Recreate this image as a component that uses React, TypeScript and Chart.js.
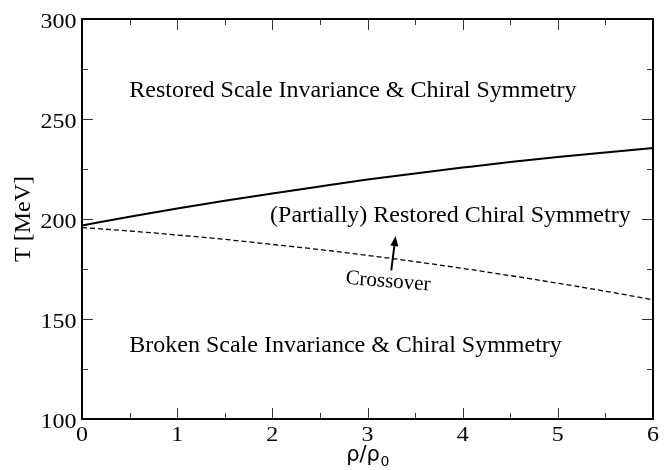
import React, { useEffect, useRef } from "react";
import { Chart, registerables } from "chart.js";

Chart.register(...registerables);

// density ratio rho/rho0
const rho = [0, 0.5, 1, 1.5, 2, 2.5, 3, 3.5, 4, 4.5, 5, 5.5, 6];
// upper (solid) transition line, T in MeV
const tSolid = [196.8, 201.1, 205.2, 209.1, 212.8, 216.3, 219.7, 222.8, 225.7, 228.5, 231.0, 233.3, 235.5];
// crossover (dashed) line, T in MeV
const tDashed = [195.7, 194.0, 192.0, 189.8, 187.3, 184.7, 181.8, 178.7, 175.3, 171.7, 167.9, 163.9, 159.6];

const xRange = [0, 6];
const yRange = [100, 300];
const xStep = 1;
const yStep = 50;

const SERIF = '"Liberation Serif", "Times New Roman", serif';

const decorPlugin = {
  id: "decor",
  afterDraw(chart: any) {
    const { ctx, chartArea: a, scales } = chart;
    const x = scales.x;
    const y = scales.y;
    ctx.save();

    // inward ticks
    ctx.strokeStyle = "#333";
    ctx.lineWidth = 1;
    const xv = x.ticks.map((t: any) => t.value);
    const yv = y.ticks.map((t: any) => t.value);
    const line = (x1: number, y1: number, x2: number, y2: number) => {
      ctx.beginPath();
      ctx.moveTo(x1, y1);
      ctx.lineTo(x2, y2);
      ctx.stroke();
    };
    const drawX = (v: number, len: number) => {
      const px = Math.round(x.getPixelForValue(v)) + 0.5;
      line(px, a.bottom, px, a.bottom - len);
      line(px, a.top, px, a.top + len);
    };
    const drawY = (v: number, len: number) => {
      const py = Math.round(y.getPixelForValue(v)) + 0.5;
      line(a.left, py, a.left + len, py);
      line(a.right, py, a.right - len, py);
    };
    xv.forEach((v: number, i: number) => {
      drawX(v, 11);
      if (i < xv.length - 1) drawX((v + xv[i + 1]) / 2, 6);
    });
    yv.forEach((v: number, i: number) => {
      drawY(v, 11);
      if (i < yv.length - 1) drawY((v + yv[i + 1]) / 2, 6);
    });

    // frame
    ctx.strokeStyle = "#000";
    ctx.lineWidth = 2;
    ctx.strokeRect(a.left, a.top, a.right - a.left, a.bottom - a.top);

    // tick labels (horizontally widened serif digits)
    ctx.fillStyle = "#000";
    ctx.font = `20px ${SERIF}`;
    ctx.textBaseline = "alphabetic";
    const sx = 1.2;
    xv.forEach((v: number) => {
      const px = x.getPixelForValue(v);
      const s = String(v);
      ctx.save();
      ctx.translate(px, a.bottom + 21.5);
      ctx.scale(sx, 1);
      ctx.textAlign = "center";
      ctx.fillText(s, 0, 0);
      ctx.restore();
    });
    yv.forEach((v: number) => {
      const py = y.getPixelForValue(v);
      const s = String(v);
      ctx.save();
      ctx.translate(a.left - 5.5, py + 8.5);
      ctx.scale(sx, 1);
      ctx.textAlign = "right";
      ctx.fillText(s, 0, 0);
      ctx.restore();
    });

    // y title
    ctx.save();
    ctx.font = `24px ${SERIF}`;
    ctx.translate(30, (a.top + a.bottom) / 2);
    ctx.rotate(-Math.PI / 2);
    ctx.textAlign = "center";
    ctx.fillText("T [MeV]", 0, 0);
    ctx.restore();

    // x title rho/rho_0
    ctx.save();
    const mainFont = '21px "DejaVu Sans", sans-serif';
    const subFont = '14px "DejaVu Sans", sans-serif';
    ctx.font = mainFont;
    const w1 = ctx.measureText("ρ/ρ").width;
    ctx.font = subFont;
    const w2 = ctx.measureText("0").width;
    const cx = (a.left + a.right) / 2;
    const start = cx - (w1 + w2) / 2;
    ctx.textAlign = "left";
    ctx.font = mainFont;
    ctx.fillText("ρ/ρ", start, a.bottom + 42);
    ctx.font = subFont;
    ctx.fillText("0", start + w1 + 0.5, a.bottom + 47);
    ctx.restore();

    // region annotations
    ctx.font = `24px ${SERIF}`;
    ctx.textAlign = "left";
    ctx.fillText("Restored Scale Invariance & Chiral Symmetry", x.getPixelForValue(0.497), y.getPixelForValue(261.1));
    ctx.fillText("(Partially) Restored Chiral Symmetry", x.getPixelForValue(1.976), y.getPixelForValue(198.5));
    ctx.fillText("Broken Scale Invariance & Chiral Symmetry", x.getPixelForValue(0.497), y.getPixelForValue(133.5));

    // Crossover label (slightly tilted)
    ctx.save();
    ctx.font = `21px ${SERIF}`;
    ctx.translate(x.getPixelForValue(2.765), y.getPixelForValue(167.6));
    ctx.rotate((4.5 * Math.PI) / 180);
    ctx.fillText("Crossover", 0, 0);
    ctx.restore();

    // arrow
    const ax1 = x.getPixelForValue(3.25);
    const ay1 = y.getPixelForValue(174.3);
    const ax2 = x.getPixelForValue(3.295);
    const ay2 = y.getPixelForValue(191.5);
    const ang = Math.atan2(ay2 - ay1, ax2 - ax1);
    const hl = 10;
    const hw = 4;
    ctx.strokeStyle = "#000";
    ctx.lineWidth = 2;
    ctx.beginPath();
    ctx.moveTo(ax1, ay1);
    ctx.lineTo(ax2 - Math.cos(ang) * hl * 0.8, ay2 - Math.sin(ang) * hl * 0.8);
    ctx.stroke();
    ctx.beginPath();
    ctx.moveTo(ax2, ay2);
    ctx.lineTo(
      ax2 - Math.cos(ang) * hl + Math.sin(ang) * hw,
      ay2 - Math.sin(ang) * hl - Math.cos(ang) * hw
    );
    ctx.lineTo(
      ax2 - Math.cos(ang) * hl - Math.sin(ang) * hw,
      ay2 - Math.sin(ang) * hl + Math.cos(ang) * hw
    );
    ctx.closePath();
    ctx.fillStyle = "#000";
    ctx.fill();

    ctx.restore();
  },
};

export default function App() {
  const ref = useRef<HTMLCanvasElement | null>(null);

  useEffect(() => {
    document.body.style.margin = "0";
    const canvas = ref.current;
    if (!canvas) return;
    const chart = new Chart(canvas, {
      type: "scatter",
      data: {
        datasets: [
          {
            label: "upper",
            data: rho.map((r, i) => ({ x: r, y: tSolid[i] })),
            showLine: true,
            borderColor: "#000",
            borderWidth: 2,
            pointRadius: 0,
            cubicInterpolationMode: "monotone",
          },
          {
            label: "crossover",
            data: rho.map((r, i) => ({ x: r, y: tDashed[i] })),
            showLine: true,
            borderColor: "#000",
            borderWidth: 1.3,
            borderDash: [5, 3],
            pointRadius: 0,
            cubicInterpolationMode: "monotone",
          },
        ],
      },
      options: {
        animation: false,
        responsive: false,
        devicePixelRatio: 1,
        layout: { padding: { top: 19, right: 18, left: 0, bottom: 0 } },
        plugins: { legend: { display: false }, tooltip: { enabled: false } },
        scales: {
          x: {
            type: "linear",
            min: xRange[0],
            max: xRange[1],
            ticks: { display: false, stepSize: xStep },
            grid: { display: false },
            border: { display: false },
            afterFit: (s: any) => {
              s.height = 51;
            },
          },
          y: {
            type: "linear",
            min: yRange[0],
            max: yRange[1],
            ticks: { display: false, stepSize: yStep },
            grid: { display: false },
            border: { display: false },
            afterFit: (s: any) => {
              s.width = 82;
            },
          },
        },
      } as any,
      plugins: [decorPlugin],
    });
    return () => chart.destroy();
  }, []);

  return (
    <div style={{ width: 671, height: 470, background: "#fff" }}>
      <canvas ref={ref} width={671} height={470} style={{ display: "block" }} />
    </div>
  );
}
